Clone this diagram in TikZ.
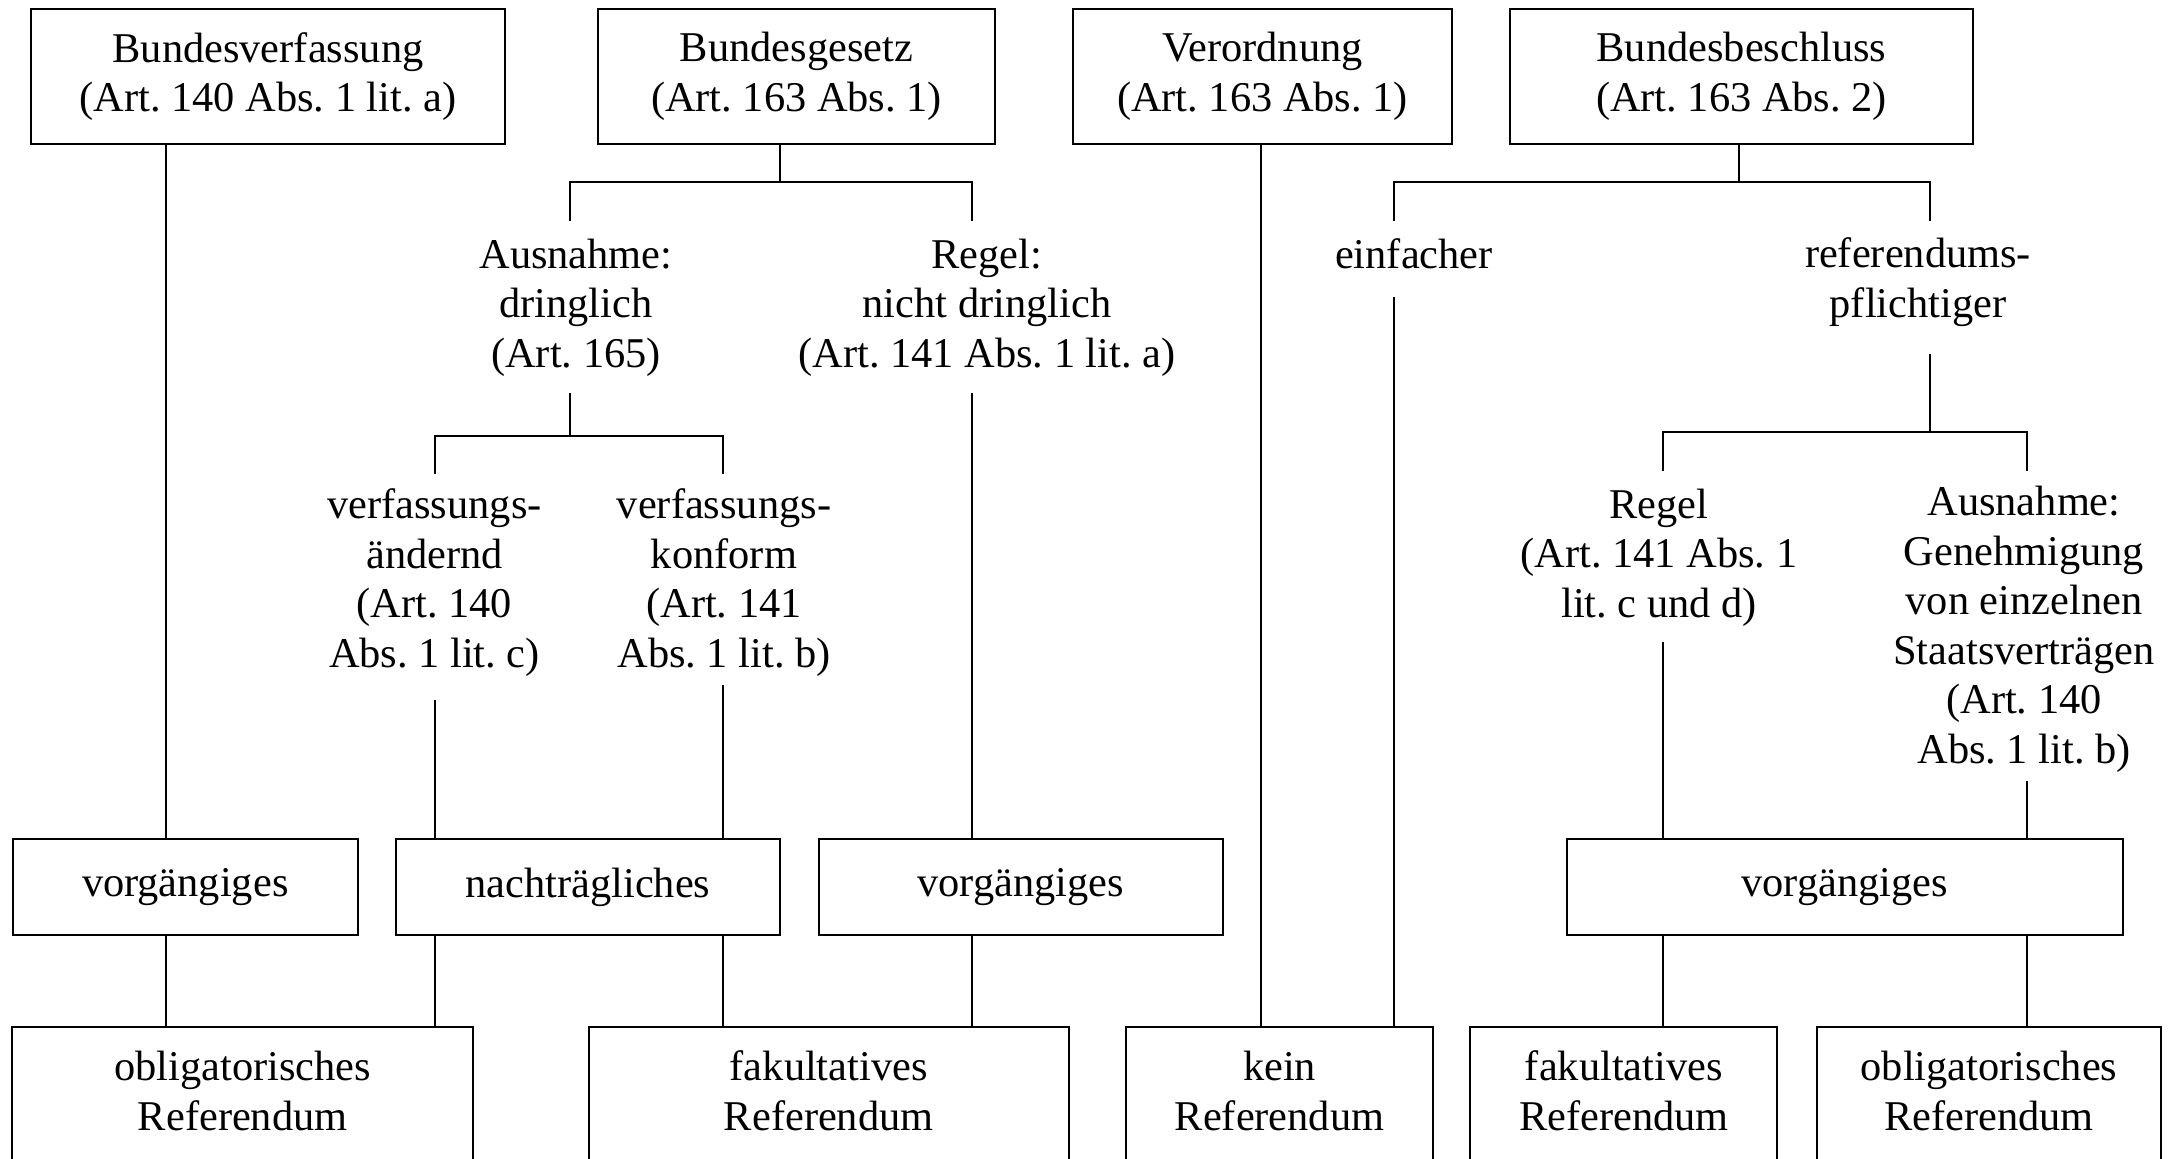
\documentclass[tikz,border=0pt]{standalone}
\usepackage{fontspec}
\setmainfont{Liberation Serif}
\begin{document}
\begin{tikzpicture}[x=0.5pt,y=-0.5pt,
  every node/.style={font=\fontsize{21.2}{24.75}\selectfont},
  tbox/.style={draw, line width=1pt, inner sep=0pt, align=center},
  obox/.style={inner sep=0pt, align=center, minimum height=64pt},
  txt/.style={inner sep=0pt, align=center, anchor=base},
  boxline/.style={line width=1pt},
  conn/.style={line width=0.9pt}]
\useasboundingbox (0,0) rectangle (2172,1158);
\clip (0,0) rectangle (2172,1158);
% top boxes
\node[tbox, minimum width=237pt, minimum height=67.5pt] (BV) at (268,76.5) {Bundesverfassung\\(Art.~140 Abs.~1 lit.~a)};
\node[tbox, minimum width=198.5pt, minimum height=67.5pt] (BG) at (796.5,76.5) {Bundesgesetz\\(Art.~163 Abs.~1)};
\node[tbox, minimum width=189.5pt, minimum height=67.5pt] (VO) at (1262.5,76.5) {Verordnung\\(Art.~163 Abs.~1)};
\node[tbox, minimum width=231.5pt, minimum height=67.5pt] (BB) at (1741.5,76.5) {Bundesbeschluss\\(Art.~163 Abs.~2)};
% text nodes (anchored at the baseline of their last line)
\node[txt] (AD) at (576,367) {Ausnahme:\\dringlich\\(Art.~165)};
\node[txt] (RG) at (987,367) {Regel:\\nicht dringlich\\(Art.~141 Abs.~1 lit.~a)};
\node[txt] (EF) at (1414,268) {einfacher};
\node[txt] (RP) at (1918,317) {referendums-\\pflichtiger};
\node[txt] (VA) at (434.5,667) {verfassungs-\\ändernd\\(Art.~140\\Abs.~1 lit.~c)};
\node[txt] (VK) at (724,667) {verfassungs-\\konform\\(Art.~141\\Abs.~1 lit.~b)};
\node[txt] (RB) at (1659,617) {Regel\\(Art.~141 Abs.~1\\lit.~c und d)};
\node[txt] (AB) at (2024,763) {Ausnahme:\\Genehmigung\\von einzelnen\\Staatsverträgen\\(Art.~140\\Abs.~1 lit.~b)};
% middle boxes
\node[tbox, minimum width=172.75pt, minimum height=48pt] (V1) at (185.25,887) {vorgängiges};
\node[tbox, minimum width=192pt, minimum height=48pt] (NT) at (588,887) {nachträgliches};
\node[tbox, minimum width=201.75pt, minimum height=48pt] (V2) at (1020.75,887) {vorgängiges};
\node[tbox, minimum width=278.1pt, minimum height=48pt] (V3) at (1844.7,887) {vorgängiges};
% bottom boxes (open at the lower edge)
\node[obox, minimum width=230.25pt] (OB1) at (242.75,1091) {obligatorisches\\Referendum};
\node[obox, minimum width=239.75pt] (FK1) at (828.75,1091) {fakultatives\\Referendum};
\node[obox, minimum width=152.95pt] (KR) at (1279.55,1091) {kein\\Referendum};
\node[obox, minimum width=153.15pt] (FK2) at (1623.85,1091) {fakultatives\\Referendum};
\node[obox, minimum width=172pt] (OB2) at (1989,1091) {obligatorisches\\Referendum};
\foreach \n in {OB1,FK1,KR,FK2,OB2}{
  \draw[boxline] ([yshift=-20pt]\n.south west) -- (\n.north west) -- (\n.north east) -- ([yshift=-20pt]\n.south east);
}
% connectors: Bundesverfassung
\coordinate (xbv) at (166,0);
\draw[conn] (xbv |- BV.south) -- (xbv |- V1.north);
\draw[conn] (xbv |- V1.south) -- (xbv |- OB1.north);
% Bundesgesetz
\coordinate (bgJ) at (780,182);
\coordinate (adT) at (570,221);
\coordinate (rgT) at (972,221);
\draw[conn] (bgJ |- BG.south) -- (bgJ);
\draw[conn] (adT) |- (bgJ) -| (rgT);
\coordinate (adB) at (570,393);
\coordinate (adJ) at (570,436);
\coordinate (vaT) at (435,474);
\coordinate (vkT) at (723,474);
\draw[conn] (adB) -- (adJ);
\draw[conn] (vaT) |- (adJ) -| (vkT);
\coordinate (vaB) at (435,700);
\coordinate (vkB) at (723,685);
\draw[conn] (vaB) -- (vaB |- NT.north);
\draw[conn] (vkB) -- (vkB |- NT.north);
\draw[conn] (vaB |- NT.south) -- (vaB |- OB1.north);
\draw[conn] (vkB |- NT.south) -- (vkB |- FK1.north);
\coordinate (rgB) at (972,393);
\draw[conn] (rgB) -- (rgB |- V2.north);
\draw[conn] (rgB |- V2.south) -- (rgB |- FK1.north);
% Verordnung
\coordinate (xvo) at (1261,0);
\draw[conn] (xvo |- VO.south) -- (xvo |- KR.north);
% Bundesbeschluss
\coordinate (bbJ) at (1739,182);
\coordinate (efT) at (1394,221);
\coordinate (rpT) at (1930,221);
\draw[conn] (bbJ |- BB.south) -- (bbJ);
\draw[conn] (efT) |- (bbJ) -| (rpT);
\coordinate (efB) at (1394,297);
\draw[conn] (efB) -- (efB |- KR.north);
\coordinate (rpB) at (1930,354);
\coordinate (rpJ) at (1930,432);
\coordinate (rbT) at (1663,471);
\coordinate (abT) at (2027,471);
\draw[conn] (rpB) -- (rpJ);
\draw[conn] (rbT) |- (rpJ) -| (abT);
\coordinate (rbB) at (1663,642);
\coordinate (abB) at (2027,781);
\draw[conn] (rbB) -- (rbB |- V3.north);
\draw[conn] (abB) -- (abB |- V3.north);
\draw[conn] (rbB |- V3.south) -- (rbB |- FK2.north);
\draw[conn] (abB |- V3.south) -- (abB |- OB2.north);
\end{tikzpicture}
\end{document}
